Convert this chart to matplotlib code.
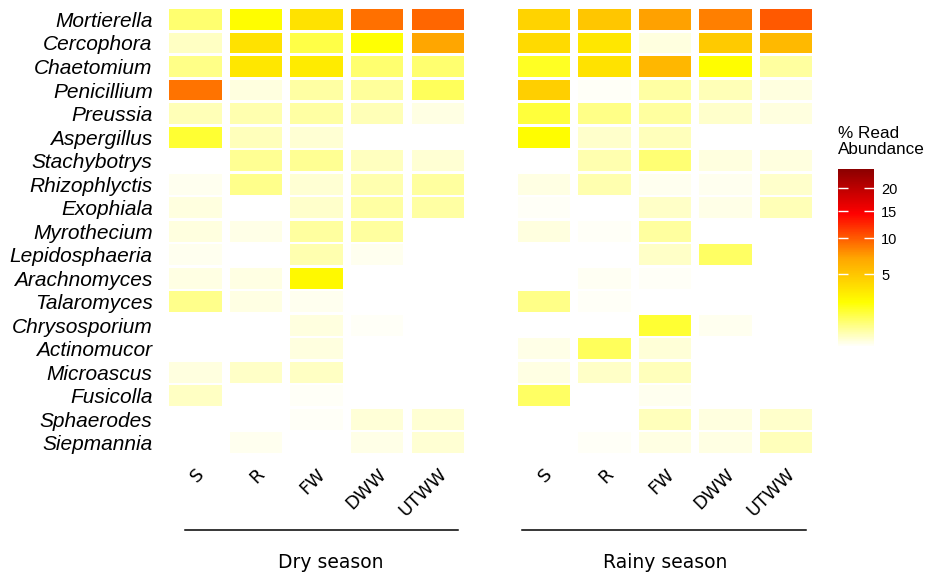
import numpy as np
import matplotlib.pyplot as plt
from matplotlib.colors import LinearSegmentedColormap, FuncNorm
from matplotlib.patches import Rectangle
from matplotlib.lines import Line2D
from matplotlib.cm import ScalarMappable
from matplotlib.ticker import NullLocator
from matplotlib.transforms import ScaledTranslation

# Generos (de arriba hacia abajo) y sitios de muestreo
genera = ['Mortierella', 'Cercophora', 'Chaetomium', 'Penicillium', 'Preussia',
          'Aspergillus', 'Stachybotrys', 'Rhizophlyctis', 'Exophiala', 'Myrothecium',
          'Lepidosphaeria', 'Arachnomyces', 'Talaromyces', 'Chrysosporium',
          'Actinomucor', 'Microascus', 'Fusicolla', 'Sphaerodes', 'Siepmannia']
sites = ['S', 'R', 'FW', 'DWW', 'UTWW']
seasons = ['Dry season', 'Rainy season']

# % de lecturas por genero y sitio (0 = sin dato)
dry = np.array([
    [1.0, 2.3, 3.5, 9.1, 9.6],
    [0.38, 3.5, 1.4, 2.2, 7.0],
    [0.8, 3.3, 3.1, 1.0, 1.0],
    [9.0, 0.25, 0.57, 0.65, 1.2],
    [0.45, 0.5, 0.57, 0.45, 0.22],
    [1.6, 0.42, 0.3, 0, 0],
    [0, 0.7, 0.7, 0.4, 0.3],
    [0.18, 0.75, 0.3, 0.5, 0.6],
    [0.25, 0.12, 0.33, 0.57, 0.57],
    [0.25, 0.2, 0.6, 0.6, 0],
    [0.17, 0, 0.5, 0.17, 0],
    [0.22, 0.22, 2.5, 0, 0],
    [0.75, 0.22, 0.17, 0, 0],
    [0, 0, 0.25, 0.14, 0],
    [0, 0, 0.25, 0, 0],
    [0.25, 0.35, 0.38, 0.12, 0],
    [0.38, 0.12, 0.14, 0, 0],
    [0, 0, 0.14, 0.27, 0.3],
    [0, 0.17, 0, 0.2, 0.3],
])

rainy = np.array([
    [4.3, 5.0, 7.2, 8.5, 10.2],
    [3.9, 3.3, 0.25, 4.7, 5.7],
    [1.8, 3.5, 5.9, 2.3, 0.6],
    [4.5, 0.14, 0.57, 0.45, 0.25],
    [1.5, 0.8, 0.6, 0.33, 0.25],
    [2.3, 0.33, 0.42, 0, 0],
    [0, 0.5, 0.95, 0.25, 0.25],
    [0.22, 0.5, 0.17, 0.17, 0.33],
    [0.14, 0, 0.36, 0.2, 0.45],
    [0.25, 0.14, 0.6, 0, 0],
    [0.12, 0, 0.36, 1.1, 0],
    [0, 0.16, 0.14, 0, 0],
    [0.8, 0.14, 0.11, 0, 0],
    [0, 0, 1.6, 0.17, 0],
    [0.2, 1.2, 0.27, 0, 0],
    [0.22, 0.35, 0.42, 0.12, 0],
    [1.1, 0.11, 0.17, 0, 0],
    [0, 0.12, 0.42, 0.25, 0.33],
    [0, 0.14, 0.22, 0.22, 0.42],
])

cmap = LinearSegmentedColormap.from_list('abund', ['white', 'yellow', 'orange', 'red', 'darkred'])
norm = FuncNorm((np.sqrt, np.square), vmin=0.114, vmax=24.7)

W, H = 926, 575
fig = plt.figure(figsize=(W / 100, H / 100), dpi=100)
# desplazamiento de las etiquetas del eje x (en pulgadas)
lab_offset = ScaledTranslation(6 / 100, -17 / 100, fig.dpi_scale_trans)


def draw_panel(ax, data, show_labels):
    for i, row in enumerate(data):
        for j, v in enumerate(row):
            if v <= 0:
                continue
            ax.add_patch(Rectangle((j - 0.432, i - 0.445), 0.864, 0.89,
                                   facecolor=cmap(norm(v)), edgecolor='none'))
    ax.set_xlim(-0.5, len(sites) - 0.5)
    ax.set_ylim(len(genera) - 0.5, -0.5)
    for s in ax.spines.values():
        s.set_visible(False)
    ax.set_xticks([])
    for j, s in enumerate(sites):
        ax.text(j, 0, s, transform=ax.get_xaxis_transform() + lab_offset,
                rotation=45, ha='right', va='center', rotation_mode='anchor',
                fontsize=13, family='DejaVu Sans')
    ax.set_yticks(range(len(genera)))
    if show_labels:
        ax.set_yticklabels(genera, fontsize=15, style='italic', family='Liberation Sans')
        ax.tick_params(axis='y', length=0, pad=9)
    else:
        ax.set_yticklabels([])
        ax.tick_params(axis='y', length=0)


ax_dry = fig.add_axes([165.15 / W, 0.2094, 303 / W, 0.7772])
ax_rain = fig.add_axes([513.55 / W, 0.2094, 303 / W, 0.7772])
draw_panel(ax_dry, dry, True)
draw_panel(ax_rain, rainy, False)

# lineas y titulos de estacion
y_line = 1 - 530 / H
fig.add_artist(Line2D([185 / W, 458 / W], [y_line, y_line], color='black', lw=1.1))
fig.add_artist(Line2D([522 / W, 806 / W], [y_line, y_line], color='black', lw=1.1))
fig.text(331 / W, 1 - 562 / H, seasons[0], ha='center', va='center',
         fontsize=13.5, family='DejaVu Sans')
fig.text(665 / W, 1 - 562 / H, seasons[1], ha='center', va='center',
         fontsize=13.5, family='DejaVu Sans')

# barra de color
cax = fig.add_axes([838.3 / W, 1 - 347 / H, 36 / W, 178 / H])
cbar = fig.colorbar(ScalarMappable(norm=norm, cmap=cmap), cax=cax)
cbar.outline.set_visible(False)
cbar.set_ticks([5, 10, 15, 20])
cax.yaxis.set_minor_locator(NullLocator())
cax.yaxis.set_ticks_position('both')
cax.tick_params(axis='y', direction='in', length=7, width=1, color='white',
                labelleft=False, labelright=True, labelsize=10.5, pad=5)
for lab in cax.get_yticklabels():
    lab.set_family('Liberation Sans')
fig.text(838 / W, 1 - 126 / H, '% Read\nAbundance', ha='left', va='top',
         fontsize=12.3, family='Liberation Sans', linespacing=1.05)

fig.savefig('out.png', dpi=100)
